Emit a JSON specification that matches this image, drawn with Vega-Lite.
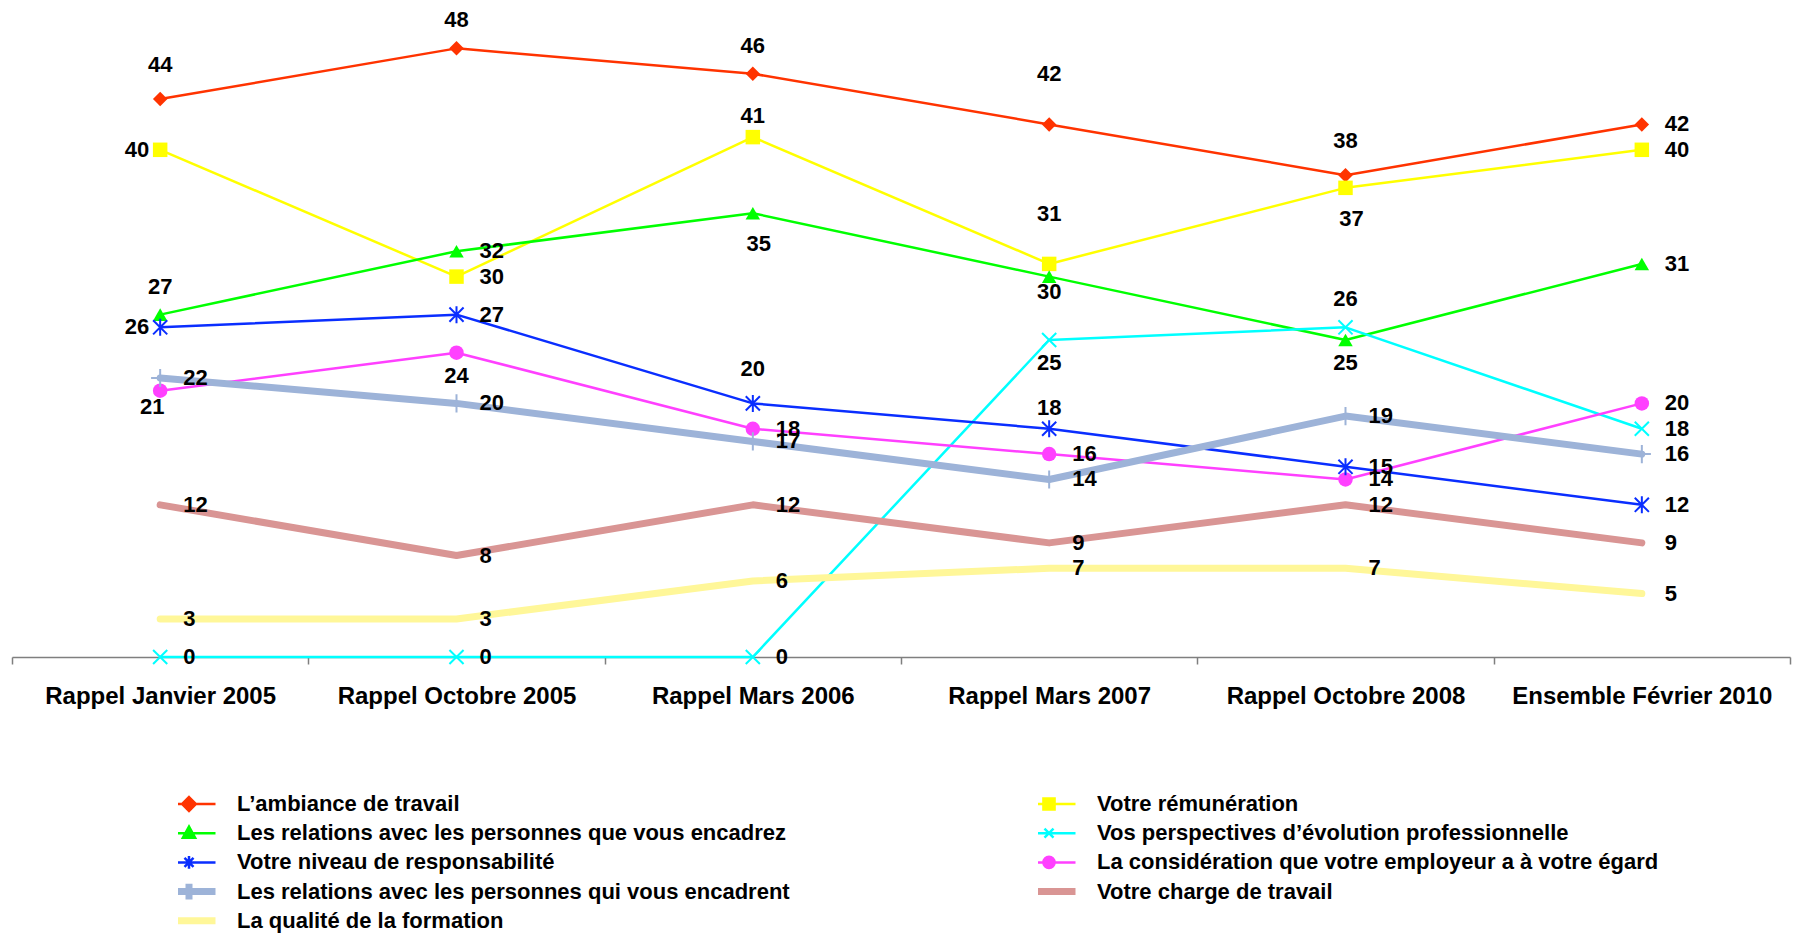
{
  "$schema": "https://vega.github.io/schema/vega-lite/v6.json",
  "width": 1778,
  "height": 634,
  "autosize": {"type": "none"},
  "padding": {"left": 12, "top": 23, "right": 11, "bottom": 277},
  "background": "white",
  "config": {"view": {"stroke": null}, "font": "Liberation Sans"},
  "data": {"values": [
    {"serie": "L’ambiance de travail", "periode": "Rappel Janvier 2005", "valeur": 44},
    {"serie": "L’ambiance de travail", "periode": "Rappel Octobre 2005", "valeur": 48},
    {"serie": "L’ambiance de travail", "periode": "Rappel Mars 2006", "valeur": 46},
    {"serie": "L’ambiance de travail", "periode": "Rappel Mars 2007", "valeur": 42},
    {"serie": "L’ambiance de travail", "periode": "Rappel Octobre 2008", "valeur": 38},
    {"serie": "L’ambiance de travail", "periode": "Ensemble Février 2010", "valeur": 42},
    {"serie": "Votre rémunération", "periode": "Rappel Janvier 2005", "valeur": 40},
    {"serie": "Votre rémunération", "periode": "Rappel Octobre 2005", "valeur": 30},
    {"serie": "Votre rémunération", "periode": "Rappel Mars 2006", "valeur": 41},
    {"serie": "Votre rémunération", "periode": "Rappel Mars 2007", "valeur": 31},
    {"serie": "Votre rémunération", "periode": "Rappel Octobre 2008", "valeur": 37},
    {"serie": "Votre rémunération", "periode": "Ensemble Février 2010", "valeur": 40},
    {"serie": "Les relations avec les personnes que vous encadrez", "periode": "Rappel Janvier 2005", "valeur": 27},
    {"serie": "Les relations avec les personnes que vous encadrez", "periode": "Rappel Octobre 2005", "valeur": 32},
    {"serie": "Les relations avec les personnes que vous encadrez", "periode": "Rappel Mars 2006", "valeur": 35},
    {"serie": "Les relations avec les personnes que vous encadrez", "periode": "Rappel Mars 2007", "valeur": 30},
    {"serie": "Les relations avec les personnes que vous encadrez", "periode": "Rappel Octobre 2008", "valeur": 25},
    {"serie": "Les relations avec les personnes que vous encadrez", "periode": "Ensemble Février 2010", "valeur": 31},
    {"serie": "Vos perspectives d’évolution professionnelle", "periode": "Rappel Janvier 2005", "valeur": 0},
    {"serie": "Vos perspectives d’évolution professionnelle", "periode": "Rappel Octobre 2005", "valeur": 0},
    {"serie": "Vos perspectives d’évolution professionnelle", "periode": "Rappel Mars 2006", "valeur": 0},
    {"serie": "Vos perspectives d’évolution professionnelle", "periode": "Rappel Mars 2007", "valeur": 25},
    {"serie": "Vos perspectives d’évolution professionnelle", "periode": "Rappel Octobre 2008", "valeur": 26},
    {"serie": "Vos perspectives d’évolution professionnelle", "periode": "Ensemble Février 2010", "valeur": 18},
    {"serie": "Votre niveau de responsabilité", "periode": "Rappel Janvier 2005", "valeur": 26},
    {"serie": "Votre niveau de responsabilité", "periode": "Rappel Octobre 2005", "valeur": 27},
    {"serie": "Votre niveau de responsabilité", "periode": "Rappel Mars 2006", "valeur": 20},
    {"serie": "Votre niveau de responsabilité", "periode": "Rappel Mars 2007", "valeur": 18},
    {"serie": "Votre niveau de responsabilité", "periode": "Rappel Octobre 2008", "valeur": 15},
    {"serie": "Votre niveau de responsabilité", "periode": "Ensemble Février 2010", "valeur": 12},
    {"serie": "La considération que votre employeur a à votre égard", "periode": "Rappel Janvier 2005", "valeur": 21},
    {"serie": "La considération que votre employeur a à votre égard", "periode": "Rappel Octobre 2005", "valeur": 24},
    {"serie": "La considération que votre employeur a à votre égard", "periode": "Rappel Mars 2006", "valeur": 18},
    {"serie": "La considération que votre employeur a à votre égard", "periode": "Rappel Mars 2007", "valeur": 16},
    {"serie": "La considération que votre employeur a à votre égard", "periode": "Rappel Octobre 2008", "valeur": 14},
    {"serie": "La considération que votre employeur a à votre égard", "periode": "Ensemble Février 2010", "valeur": 20},
    {"serie": "Les relations avec les personnes qui vous encadrent", "periode": "Rappel Janvier 2005", "valeur": 22},
    {"serie": "Les relations avec les personnes qui vous encadrent", "periode": "Rappel Octobre 2005", "valeur": 20},
    {"serie": "Les relations avec les personnes qui vous encadrent", "periode": "Rappel Mars 2006", "valeur": 17},
    {"serie": "Les relations avec les personnes qui vous encadrent", "periode": "Rappel Mars 2007", "valeur": 14},
    {"serie": "Les relations avec les personnes qui vous encadrent", "periode": "Rappel Octobre 2008", "valeur": 19},
    {"serie": "Les relations avec les personnes qui vous encadrent", "periode": "Ensemble Février 2010", "valeur": 16},
    {"serie": "Votre charge de travail", "periode": "Rappel Janvier 2005", "valeur": 12},
    {"serie": "Votre charge de travail", "periode": "Rappel Octobre 2005", "valeur": 8},
    {"serie": "Votre charge de travail", "periode": "Rappel Mars 2006", "valeur": 12},
    {"serie": "Votre charge de travail", "periode": "Rappel Mars 2007", "valeur": 9},
    {"serie": "Votre charge de travail", "periode": "Rappel Octobre 2008", "valeur": 12},
    {"serie": "Votre charge de travail", "periode": "Ensemble Février 2010", "valeur": 9},
    {"serie": "La qualité de la formation", "periode": "Rappel Janvier 2005", "valeur": 3},
    {"serie": "La qualité de la formation", "periode": "Rappel Octobre 2005", "valeur": 3},
    {"serie": "La qualité de la formation", "periode": "Rappel Mars 2006", "valeur": 6},
    {"serie": "La qualité de la formation", "periode": "Rappel Mars 2007", "valeur": 7},
    {"serie": "La qualité de la formation", "periode": "Rappel Octobre 2008", "valeur": 7},
    {"serie": "La qualité de la formation", "periode": "Ensemble Février 2010", "valeur": 5}
  ]},
  "encoding": {
    "x": {
      "field": "periode", "type": "nominal",
      "sort": ["Rappel Janvier 2005", "Rappel Octobre 2005", "Rappel Mars 2006", "Rappel Mars 2007", "Rappel Octobre 2008", "Ensemble Février 2010"],
      "scale": {"type": "band", "paddingInner": 0, "paddingOuter": 0},
      "axis": {"title": null, "labelAngle": 0, "labelFont": "Liberation Sans", "labelFontWeight": "bold", "labelFontSize": 24, "labelColor": "black", "labelPadding": 20, "labelLimit": 400, "tickBand": "extent", "tickSize": 7, "tickColor": "#7f7f7f", "tickWidth": 1.5, "domainColor": "#7f7f7f", "domainWidth": 1.5, "grid": false}
    },
    "y": {"field": "valeur", "type": "quantitative", "scale": {"domain": [0, 50], "nice": false}, "axis": null}
  },
  "resolve": {"scale": {"shape": "independent"}},
  "layer": [
    {
      "mark": {"type": "line", "strokeCap": "round", "strokeJoin": "round"},
      "encoding": {
        "color": {
          "field": "serie", "type": "nominal",
          "scale": {
            "domain": ["L’ambiance de travail", "Votre rémunération", "Les relations avec les personnes que vous encadrez", "Vos perspectives d’évolution professionnelle", "Votre niveau de responsabilité", "La considération que votre employeur a à votre égard", "Les relations avec les personnes qui vous encadrent", "Votre charge de travail", "La qualité de la formation"],
            "range": ["#FF3300", "#FFFF00", "#00FF00", "#00FFFF", "#0A2EFF", "#FF40FF", "#9DB3D8", "#D99594", "#FFF799"]
          },
          "legend": {
            "title": null, "orient": "none", "legendX": 166, "legendY": 770, "direction": "horizontal", "columns": 2,
            "columnPadding": 248, "rowPadding": 7.2, "clipHeight": 22, "padding": 0,
            "symbolType": "stroke", "symbolSize": 2809,
            "labelFont": "Liberation Sans", "labelFontWeight": "bold", "labelFontSize": 22, "labelColor": "black", "labelOffset": 37, "labelLimit": 800,
            "encode": {
              "symbols": {
                "update": {
                  "shape": {"signal": "datum.value == 'L’ambiance de travail' ? 'M-1,0H1M0,-0.26L0.26,0L0,0.26L-0.26,0Z' : datum.value == 'Votre rémunération' ? 'M-1,0H1M-0.21,-0.21H0.21V0.21H-0.21Z' : datum.value == 'Les relations avec les personnes que vous encadrez' ? 'M-1,0H1M0,-0.25L0.23,0.17H-0.23Z' : datum.value == 'Vos perspectives d’évolution professionnelle' ? 'M-1,0H1M-0.17,-0.17L0.17,0.17M-0.17,0.17L0.17,-0.17' : datum.value == 'Votre niveau de responsabilité' ? 'M-1,0H1M-0.17,-0.17L0.17,0.17M-0.17,0.17L0.17,-0.17M0,-0.24V0.24' : datum.value == 'La considération que votre employeur a à votre égard' ? 'M-1,0H1M-0.21,0A0.21,0.21,0,1,0,0.21,0A0.21,0.21,0,1,0,-0.21,0Z' : datum.value == 'Les relations avec les personnes qui vous encadrent' ? 'M-1,0H1M0,-0.3V0.3' : 'M-1,0H1'"},
                  "fill": {"scale": "color", "field": "value"},
                  "strokeWidth": {"signal": "indexof(['Les relations avec les personnes qui vous encadrent', 'Votre charge de travail', 'La qualité de la formation'], datum.value) >= 0 ? 7 : 2.5"},
                  "opacity": {"value": 1}
                }
              }
            }
          }
        },
        "strokeWidth": {
          "condition": {"test": "indexof(['Les relations avec les personnes qui vous encadrent', 'Votre charge de travail', 'La qualité de la formation'], datum.serie) >= 0", "value": 7},
          "value": 2.5
        }
      }
    },
    {
      "transform": [{"filter": "indexof(['L’ambiance de travail', 'Votre rémunération', 'Les relations avec les personnes que vous encadrez', 'La considération que votre employeur a à votre égard'], datum.serie) >= 0"}],
      "mark": {"type": "point", "filled": true, "opacity": 1, "size": 210},
      "encoding": {
        "color": {"field": "serie", "type": "nominal", "legend": null,
          "scale": {
            "domain": ["L’ambiance de travail", "Votre rémunération", "Les relations avec les personnes que vous encadrez", "Vos perspectives d’évolution professionnelle", "Votre niveau de responsabilité", "La considération que votre employeur a à votre égard", "Les relations avec les personnes qui vous encadrent", "Votre charge de travail", "La qualité de la formation"],
            "range": ["#FF3300", "#FFFF00", "#00FF00", "#00FFFF", "#0A2EFF", "#FF40FF", "#9DB3D8", "#D99594", "#FFF799"]
          }},
        "shape": {"field": "serie", "type": "nominal", "legend": null,
          "scale": {"domain": ["L’ambiance de travail", "Votre rémunération", "Les relations avec les personnes que vous encadrez", "La considération que votre employeur a à votre égard"], "range": ["diamond", "square", "triangle-up", "circle"]}}
      }
    },
    {
      "transform": [{"filter": "indexof(['Vos perspectives d’évolution professionnelle', 'Votre niveau de responsabilité', 'Les relations avec les personnes qui vous encadrent'], datum.serie) >= 0"}],
      "mark": {"type": "point", "filled": false, "opacity": 1, "strokeWidth": 2},
      "encoding": {
        "color": {"field": "serie", "type": "nominal", "legend": null,
          "scale": {
            "domain": ["L’ambiance de travail", "Votre rémunération", "Les relations avec les personnes que vous encadrez", "Vos perspectives d’évolution professionnelle", "Votre niveau de responsabilité", "La considération que votre employeur a à votre égard", "Les relations avec les personnes qui vous encadrent", "Votre charge de travail", "La qualité de la formation"],
            "range": ["#FF3300", "#FFFF00", "#00FF00", "#00FFFF", "#0A2EFF", "#FF40FF", "#9DB3D8", "#D99594", "#FFF799"]
          }},
        "shape": {"field": "serie", "type": "nominal", "legend": null,
          "scale": {"domain": ["Vos perspectives d’évolution professionnelle", "Votre niveau de responsabilité", "Les relations avec les personnes qui vous encadrent"], "range": ["M-1,-1L1,1M-1,1L1,-1", "M-1,-1L1,1M-1,1L1,-1M0,-1.2V1.2", "M-1,0H1M0,-1V1"]}},
        "size": {"condition": {"test": "datum.serie == 'Les relations avec les personnes qui vous encadrent'", "value": 330}, "value": 200}
      }
    },
    {
      "transform": [{"filter": "indexof(['Votre rémunération|Rappel Janvier 2005', 'Votre niveau de responsabilité|Rappel Janvier 2005', 'L’ambiance de travail|Rappel Janvier 2005', 'Votre niveau de responsabilité|Rappel Mars 2006', 'L’ambiance de travail|Rappel Octobre 2008', 'L’ambiance de travail|Rappel Octobre 2005', 'Les relations avec les personnes que vous encadrez|Rappel Janvier 2005', 'Vos perspectives d’évolution professionnelle|Rappel Octobre 2008', 'L’ambiance de travail|Rappel Mars 2006', 'Votre rémunération|Rappel Mars 2006', 'Votre niveau de responsabilité|Rappel Mars 2007', 'L’ambiance de travail|Rappel Mars 2007', 'Votre rémunération|Rappel Mars 2007', 'Votre rémunération|Rappel Octobre 2008', 'Les relations avec les personnes que vous encadrez|Rappel Mars 2006', 'Les relations avec les personnes que vous encadrez|Rappel Octobre 2008', 'Vos perspectives d’évolution professionnelle|Rappel Mars 2007', 'La considération que votre employeur a à votre égard|Rappel Octobre 2005', 'Les relations avec les personnes que vous encadrez|Rappel Mars 2007', 'La considération que votre employeur a à votre égard|Rappel Janvier 2005'], datum.serie + '|' + datum.periode) < 0"}],
      "mark": {"type": "text", "font": "Liberation Sans", "fontWeight": "bold", "fontSize": 22, "color": "black", "align": "left", "baseline": "middle", "dx": 23},
      "encoding": {"text": {"field": "valeur", "type": "quantitative"}}
    },
    {
      "transform": [{"filter": "indexof(['Votre rémunération|Rappel Janvier 2005', 'Votre niveau de responsabilité|Rappel Janvier 2005'], datum.serie + '|' + datum.periode) >= 0"}],
      "mark": {"type": "text", "font": "Liberation Sans", "fontWeight": "bold", "fontSize": 22, "color": "black", "align": "right", "baseline": "middle", "dx": -11},
      "encoding": {"text": {"field": "valeur", "type": "quantitative"}}
    },
    {
      "transform": [{"filter": "indexof(['L’ambiance de travail|Rappel Janvier 2005', 'Votre niveau de responsabilité|Rappel Mars 2006', 'L’ambiance de travail|Rappel Octobre 2008'], datum.serie + '|' + datum.periode) >= 0"}],
      "mark": {"type": "text", "font": "Liberation Sans", "fontWeight": "bold", "fontSize": 22, "color": "black", "align": "center", "baseline": "middle", "dy": -34},
      "encoding": {"text": {"field": "valeur", "type": "quantitative"}}
    },
    {
      "transform": [{"filter": "indexof(['L’ambiance de travail|Rappel Octobre 2005', 'Les relations avec les personnes que vous encadrez|Rappel Janvier 2005', 'Vos perspectives d’évolution professionnelle|Rappel Octobre 2008', 'L’ambiance de travail|Rappel Mars 2006'], datum.serie + '|' + datum.periode) >= 0"}],
      "mark": {"type": "text", "font": "Liberation Sans", "fontWeight": "bold", "fontSize": 22, "color": "black", "align": "center", "baseline": "middle", "dy": -28},
      "encoding": {"text": {"field": "valeur", "type": "quantitative"}}
    },
    {
      "transform": [{"filter": "indexof(['Votre rémunération|Rappel Mars 2006', 'Votre niveau de responsabilité|Rappel Mars 2007'], datum.serie + '|' + datum.periode) >= 0"}],
      "mark": {"type": "text", "font": "Liberation Sans", "fontWeight": "bold", "fontSize": 22, "color": "black", "align": "center", "baseline": "middle", "dy": -21},
      "encoding": {"text": {"field": "valeur", "type": "quantitative"}}
    },
    {
      "transform": [{"filter": "indexof(['L’ambiance de travail|Rappel Mars 2007', 'Votre rémunération|Rappel Mars 2007'], datum.serie + '|' + datum.periode) >= 0"}],
      "mark": {"type": "text", "font": "Liberation Sans", "fontWeight": "bold", "fontSize": 22, "color": "black", "align": "center", "baseline": "middle", "dy": -50},
      "encoding": {"text": {"field": "valeur", "type": "quantitative"}}
    },
    {
      "transform": [{"filter": "indexof(['Votre rémunération|Rappel Octobre 2008', 'Les relations avec les personnes que vous encadrez|Rappel Mars 2006'], datum.serie + '|' + datum.periode) >= 0"}],
      "mark": {"type": "text", "font": "Liberation Sans", "fontWeight": "bold", "fontSize": 22, "color": "black", "align": "center", "baseline": "middle", "dy": 31, "dx": 6},
      "encoding": {"text": {"field": "valeur", "type": "quantitative"}}
    },
    {
      "transform": [{"filter": "indexof(['Les relations avec les personnes que vous encadrez|Rappel Octobre 2008', 'Vos perspectives d’évolution professionnelle|Rappel Mars 2007', 'La considération que votre employeur a à votre égard|Rappel Octobre 2005'], datum.serie + '|' + datum.periode) >= 0"}],
      "mark": {"type": "text", "font": "Liberation Sans", "fontWeight": "bold", "fontSize": 22, "color": "black", "align": "center", "baseline": "middle", "dy": 23},
      "encoding": {"text": {"field": "valeur", "type": "quantitative"}}
    },
    {
      "transform": [{"filter": "indexof(['Les relations avec les personnes que vous encadrez|Rappel Mars 2007'], datum.serie + '|' + datum.periode) >= 0"}],
      "mark": {"type": "text", "font": "Liberation Sans", "fontWeight": "bold", "fontSize": 22, "color": "black", "align": "center", "baseline": "middle", "dy": 15},
      "encoding": {"text": {"field": "valeur", "type": "quantitative"}}
    },
    {
      "transform": [{"filter": "indexof(['La considération que votre employeur a à votre égard|Rappel Janvier 2005'], datum.serie + '|' + datum.periode) >= 0"}],
      "mark": {"type": "text", "font": "Liberation Sans", "fontWeight": "bold", "fontSize": 22, "color": "black", "align": "center", "baseline": "middle", "dy": 16, "dx": -8},
      "encoding": {"text": {"field": "valeur", "type": "quantitative"}}
    }
  ]
}
